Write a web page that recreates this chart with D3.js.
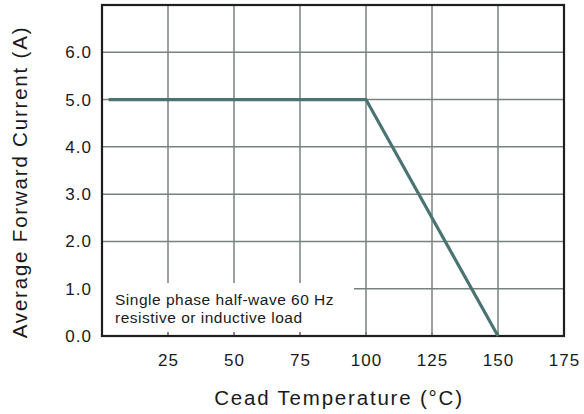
<!DOCTYPE html>
<html>
<head>
<meta charset="utf-8">
<script src="https://cdn.jsdelivr.net/npm/d3@7"></script>
<style>
  html, body { margin: 0; padding: 0; background: #fff; }
  svg { display: block; }
  text { font-family: "Liberation Sans", Arial, Helvetica, sans-serif; fill: #1a1a1a; }
</style>
</head>
<body>
<script>
// ---- data ----
const curveTemp = [2.5, 100, 150];
const curveCurrent = [5.0, 5.0, 0.0];
const xTicks = [25, 50, 75, 100, 125, 150, 175];
const yTicks = [0, 1, 2, 3, 4, 5, 6];
const xTitle = "Cead Temperature (°C)";
const yTitle = "Average Forward Current (A)";
const noteLines = ["Single phase half-wave 60 Hz", "resistive or inductive load"];

// ---- layout ----
const W = 584, H = 414;
const m = { left: 102, right: 20, top: 5, bottom: 78 };
const svg = d3.select("body").append("svg").attr("width", W).attr("height", H);

const x = d3.scaleLinear().domain([0, 175]).range([m.left, W - m.right]);
const y = d3.scaleLinear().domain([0, 7]).range([H - m.bottom, m.top]);

const gridColor = "#78827f";

// grid
const g = svg.append("g");
g.selectAll(".vg").data(xTicks.filter(d => d > 0 && d < 175)).enter().append("line")
  .attr("x1", d => x(d)).attr("x2", d => x(d))
  .attr("y1", y(7)).attr("y2", y(0))
  .attr("stroke", gridColor).attr("stroke-width", 1.5);
g.selectAll(".hg").data(yTicks.filter(d => d > 0)).enter().append("line")
  .attr("x1", x(0)).attr("x2", x(175))
  .attr("y1", d => y(d)).attr("y2", d => y(d))
  .attr("stroke", gridColor).attr("stroke-width", 1.5);

// white note box
svg.append("rect")
  .attr("x", x(0)).attr("y", 283)
  .attr("width", 252).attr("height", y(0) - 4 - 283)
  .attr("fill", "#fff");

// inner ticks on bottom
svg.selectAll(".bt").data(xTicks.filter(d => d < 175)).enter().append("line")
  .attr("x1", d => x(d)).attr("x2", d => x(d))
  .attr("y1", y(0)).attr("y2", y(0) - 4)
  .attr("stroke", gridColor).attr("stroke-width", 1.5);

// note text
svg.append("g").selectAll("text").data(noteLines).enter().append("text")
  .attr("x", 115).attr("y", (d, i) => 305 + i * 18)
  .attr("font-size", 15.5).attr("letter-spacing", 0.5)
  .text(d => d);

// axes labels
const xAxis = d3.axisBottom(x).tickValues(xTicks).tickSize(0).tickPadding(18)
  .tickFormat(d3.format("d"));
const xa = svg.append("g").attr("transform", `translate(0,${y(0)})`).call(xAxis);
xa.select(".domain").remove();
xa.selectAll("text").attr("font-size", 17).attr("letter-spacing", 1).attr("fill", "#1a1a1a")
  .attr("font-family", "Liberation Sans, Arial, sans-serif");

const yAxis = d3.axisLeft(y).tickValues(yTicks).tickSize(0).tickPadding(10)
  .tickFormat(d3.format(".1f"));
const ya = svg.append("g").attr("transform", `translate(${x(0)},0)`).call(yAxis);
ya.select(".domain").remove();
ya.selectAll("text").attr("font-size", 17).attr("letter-spacing", 1).attr("fill", "#1a1a1a")
  .attr("font-family", "Liberation Sans, Arial, sans-serif");

// border
svg.append("rect")
  .attr("x", x(0)).attr("y", y(7))
  .attr("width", x(175) - x(0)).attr("height", y(0) - y(7))
  .attr("fill", "none").attr("stroke", "#1e1e1e").attr("stroke-width", 2.2);

// curve
const pts = curveTemp.map((t, i) => [t, curveCurrent[i]]);
svg.append("path").datum(pts)
  .attr("d", d3.line().x(d => x(d[0])).y(d => y(d[1])))
  .attr("fill", "none").attr("stroke", "#4a7472").attr("stroke-width", 3.2);

// titles
svg.append("text")
  .attr("x", (x(0) + x(175)) / 2 + 6).attr("y", 405)
  .attr("text-anchor", "middle").attr("font-size", 20.5).attr("letter-spacing", 1.8)
  .text(xTitle);
svg.append("text")
  .attr("transform", `translate(27,${182}) rotate(-90)`)
  .attr("text-anchor", "middle").attr("font-size", 20.5).attr("letter-spacing", 1.8)
  .text(yTitle);
</script>
</body>
</html>
